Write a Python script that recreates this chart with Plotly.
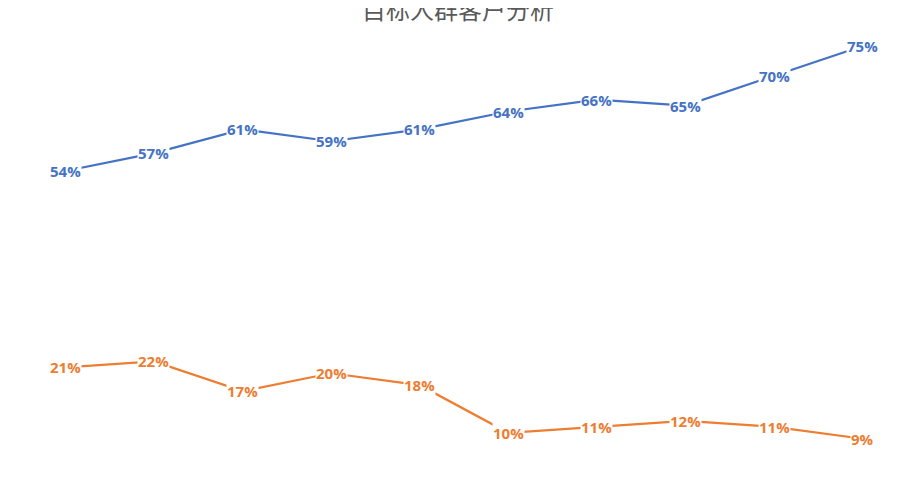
import plotly.graph_objects as go

cats = ["1月", "2月", "3月", "4月", "5月", "6月", "7月", "8月", "9月", "10月"]
blue = [54, 57, 61, 59, 61, 64, 66, 65, 70, 75]
orange = [21, 22, 17, 20, 18, 10, 11, 12, 11, 9]
title = "目标人群客户分析"

fig = go.Figure()
ann = []
for vals, col in [(blue, "#4472C4"), (orange, "#ED7D31")]:
    fig.add_trace(go.Scatter(x=cats, y=vals, mode="lines", line=dict(color=col, width=2.2)))
    for c, v in zip(cats, vals):
        ann.append(dict(x=c, y=v, text=f"<b>{v}%</b>", showarrow=False, bgcolor="white",
                        font=dict(color=col, size=15, family="Open Sans"), borderpad=0))
fig.update_layout(
    width=900, height=500, showlegend=False, plot_bgcolor="white", paper_bgcolor="white",
    margin=dict(l=13, r=1, t=0, b=8), annotations=ann,
    title=dict(text=title, x=0.5, y=0.995, yanchor="middle", font=dict(size=24, color="#595959", family="Noto Sans CJK SC")),
    xaxis=dict(type="category", range=[-0.5, 9.5], showticklabels=False, showgrid=False, showline=True, linecolor="#D9D9D9", linewidth=1.5, zeroline=False),
    yaxis=dict(range=[-1.3, 81.4], visible=False),
)
fig.write_html("out.html")
